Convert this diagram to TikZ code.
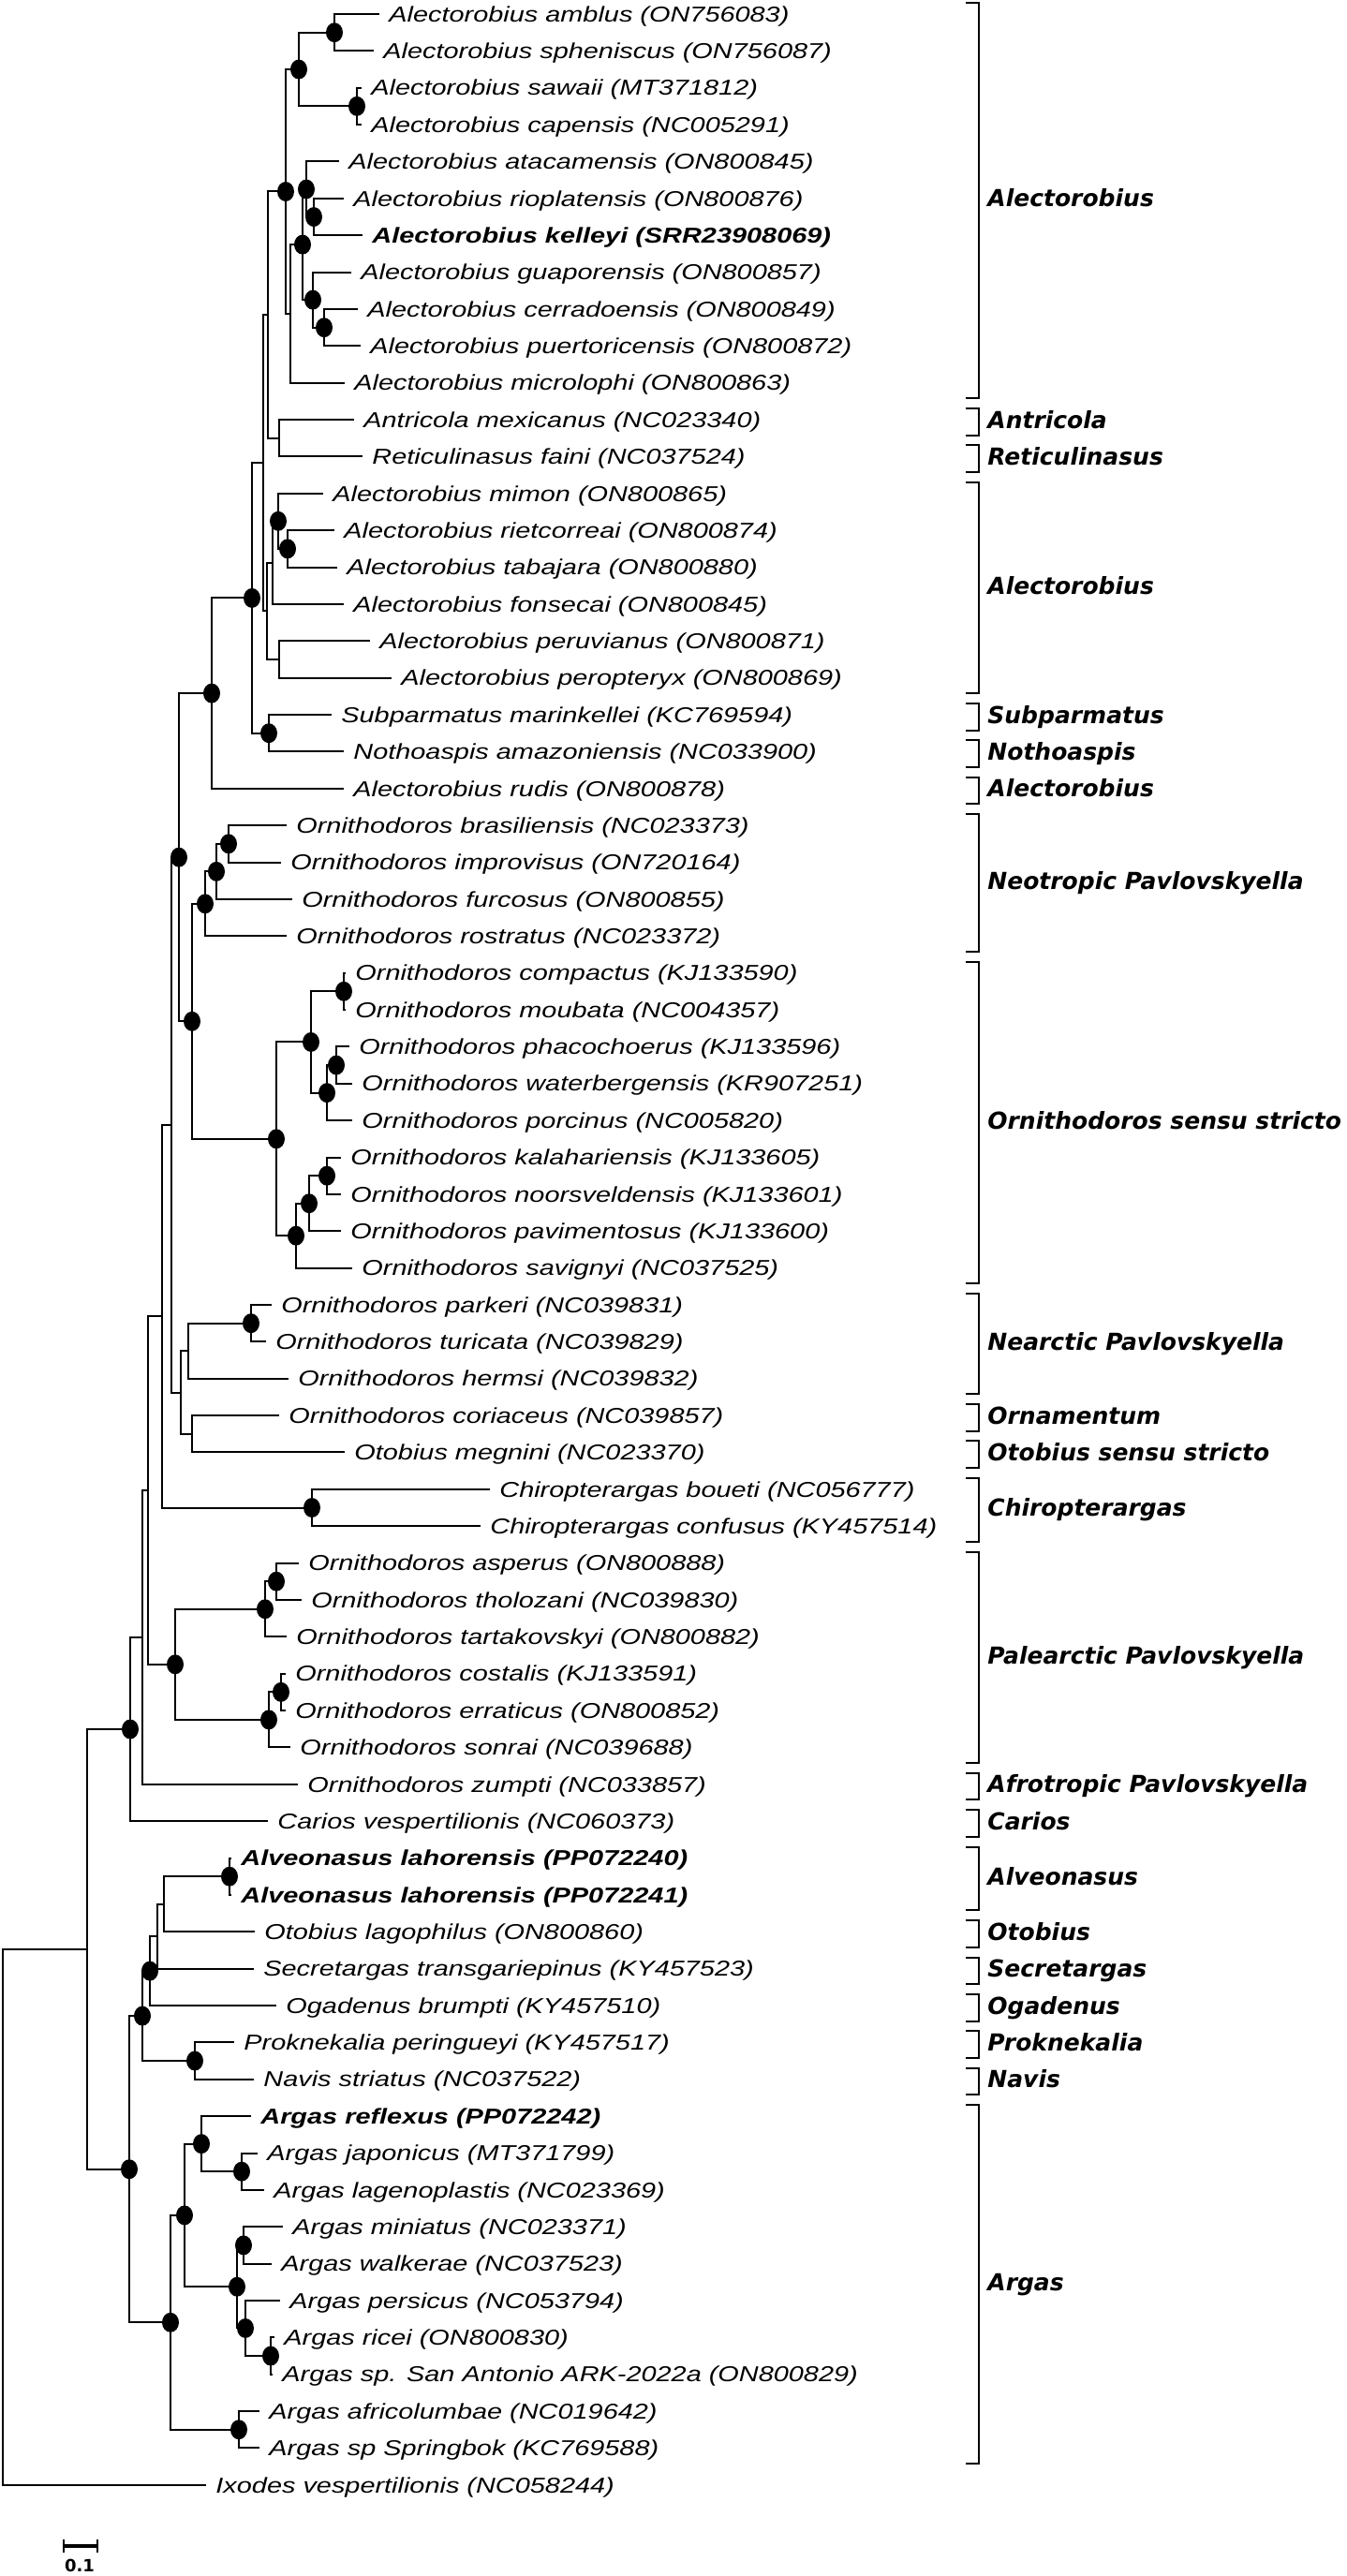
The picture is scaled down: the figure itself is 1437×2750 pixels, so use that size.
\documentclass[tikz,border=0pt]{standalone}
\usepackage{fontspec}
\setmainfont{Liberation Sans}
\newfontfamily\leaffont{Liberation Sans}[FakeStretch=1.256]
\newfontfamily\cladefont{DejaVu Sans}
\usetikzlibrary{shapes.geometric}
\newcommand\leafat[5]{%
  \coordinate (#1) at (#2,#3);
  \node[#4] (#1t) at ({#2+10},{#3+8.2}) {#5};}
\newcommand\inode[3]{\coordinate (#1) at (#2,#3);}
\newcommand\tbranch[3]{\draw[edge] (#2) -| (#1) |- (#3);}
\newcommand\cladebr[4]{%
  \coordinate (#1a) at (1031,{#2-12});
  \coordinate (#1b) at (1031,{#3+16.5});
  \draw[bracket] (#1a) -- ++(14,0) |- (#1b);
  \node[cladelab] (#1t) at (1054,{(#2+#3)/2+9.1}) {#4};}
\begin{document}
\begin{tikzpicture}[x=0.5pt,y=-0.5pt,
  edge/.style={draw=black,line width=1pt},
  bracket/.style={draw=black,line width=1pt},
  supp/.style={ellipse,fill=black,inner sep=0pt,minimum width=9pt,minimum height=10.5pt},
  leaflab/.style={anchor=base west,inner sep=0pt,font=\leaffont\itshape\fontsize{11.5}{13}\selectfont},
  boldlab/.style={anchor=base west,inner sep=0pt,font=\leaffont\bfseries\itshape\fontsize{11.5}{13}\selectfont},
  cladelab/.style={anchor=base west,inner sep=0pt,font=\cladefont\bfseries\itshape\fontsize{12.5}{14}\selectfont},
  scalelab/.style={anchor=base,inner sep=0pt,font=\cladefont\bfseries\fontsize{9}{10}\selectfont}]
\path[fill=white] (0,0) rectangle (1437,2750);
\useasboundingbox (0,0) rectangle (1437,2750);
% leaves
\leafat{l1}{405}{15.0}{leaflab}{Alectorobius amblus (ON756083)}
\leafat{l2}{399}{54.4}{leaflab}{Alectorobius spheniscus (ON756087)}
\leafat{l3}{386}{93.7}{leaflab}{Alectorobius sawaii (MT371812)}
\leafat{l4}{386}{133.1}{leaflab}{Alectorobius capensis (NC005291)}
\leafat{l5}{362}{172.5}{leaflab}{Alectorobius atacamensis (ON800845)}
\leafat{l6}{367}{211.9}{leaflab}{Alectorobius rioplatensis (ON800876)}
\leafat{l7}{387}{251.2}{boldlab}{Alectorobius kelleyi (SRR23908069)}
\leafat{l8}{375}{290.6}{leaflab}{Alectorobius guaporensis (ON800857)}
\leafat{l9}{382}{330.0}{leaflab}{Alectorobius cerradoensis (ON800849)}
\leafat{l10}{385}{369.3}{leaflab}{Alectorobius puertoricensis (ON800872)}
\leafat{l11}{368}{408.7}{leaflab}{Alectorobius microlophi (ON800863)}
\leafat{l12}{378}{448.1}{leaflab}{Antricola mexicanus (NC023340)}
\leafat{l13}{387}{487.4}{leaflab}{Reticulinasus faini (NC037524)}
\leafat{l14}{345}{526.8}{leaflab}{Alectorobius mimon (ON800865)}
\leafat{l15}{357}{566.2}{leaflab}{Alectorobius rietcorreai (ON800874)}
\leafat{l16}{360}{605.5}{leaflab}{Alectorobius tabajara (ON800880)}
\leafat{l17}{367}{644.9}{leaflab}{Alectorobius fonsecai (ON800845)}
\leafat{l18}{395}{684.3}{leaflab}{Alectorobius peruvianus (ON800871)}
\leafat{l19}{418}{723.7}{leaflab}{Alectorobius peropteryx (ON800869)}
\leafat{l20}{354}{763.0}{leaflab}{Subparmatus marinkellei (KC769594)}
\leafat{l21}{367}{802.4}{leaflab}{Nothoaspis amazoniensis (NC033900)}
\leafat{l22}{367}{841.8}{leaflab}{Alectorobius rudis (ON800878)}
\leafat{l23}{306}{881.1}{leaflab}{Ornithodoros brasiliensis (NC023373)}
\leafat{l24}{300}{920.5}{leaflab}{Ornithodoros improvisus (ON720164)}
\leafat{l25}{312}{959.9}{leaflab}{Ornithodoros furcosus (ON800855)}
\leafat{l26}{306}{999.2}{leaflab}{Ornithodoros rostratus (NC023372)}
\leafat{l27}{369}{1038.6}{leaflab}{Ornithodoros compactus (KJ133590)}
\leafat{l28}{369}{1078.0}{leaflab}{Ornithodoros moubata (NC004357)}
\leafat{l29}{373}{1117.4}{leaflab}{Ornithodoros phacochoerus (KJ133596)}
\leafat{l30}{376}{1156.7}{leaflab}{Ornithodoros waterbergensis (KR907251)}
\leafat{l31}{376}{1196.1}{leaflab}{Ornithodoros porcinus (NC005820)}
\leafat{l32}{364}{1235.5}{leaflab}{Ornithodoros kalahariensis (KJ133605)}
\leafat{l33}{364}{1274.8}{leaflab}{Ornithodoros noorsveldensis (KJ133601)}
\leafat{l34}{364}{1314.2}{leaflab}{Ornithodoros pavimentosus (KJ133600)}
\leafat{l35}{376}{1353.6}{leaflab}{Ornithodoros savignyi (NC037525)}
\leafat{l36}{290}{1393.0}{leaflab}{Ornithodoros parkeri (NC039831)}
\leafat{l37}{284}{1432.3}{leaflab}{Ornithodoros turicata (NC039829)}
\leafat{l38}{308}{1471.7}{leaflab}{Ornithodoros hermsi (NC039832)}
\leafat{l39}{298}{1511.1}{leaflab}{Ornithodoros coriaceus (NC039857)}
\leafat{l40}{368}{1550.4}{leaflab}{Otobius megnini (NC023370)}
\leafat{l41}{523}{1589.8}{leaflab}{Chiropterargas boueti (NC056777)}
\leafat{l42}{513}{1629.2}{leaflab}{Chiropterargas confusus (KY457514)}
\leafat{l43}{319}{1668.5}{leaflab}{Ornithodoros asperus (ON800888)}
\leafat{l44}{322}{1707.9}{leaflab}{Ornithodoros tholozani (NC039830)}
\leafat{l45}{306}{1747.3}{leaflab}{Ornithodoros tartakovskyi (ON800882)}
\leafat{l46}{305}{1786.7}{leaflab}{Ornithodoros costalis (KJ133591)}
\leafat{l47}{305}{1826.0}{leaflab}{Ornithodoros erraticus (ON800852)}
\leafat{l48}{310}{1865.4}{leaflab}{Ornithodoros sonrai (NC039688)}
\leafat{l49}{318}{1904.8}{leaflab}{Ornithodoros zumpti (NC033857)}
\leafat{l50}{286}{1944.1}{leaflab}{Carios vespertilionis (NC060373)}
\leafat{l51}{247}{1983.5}{boldlab}{Alveonasus lahorensis (PP072240)}
\leafat{l52}{247}{2022.9}{boldlab}{Alveonasus lahorensis (PP072241)}
\leafat{l53}{272}{2062.2}{leaflab}{Otobius lagophilus (ON800860)}
\leafat{l54}{271}{2101.6}{leaflab}{Secretargas transgariepinus (KY457523)}
\leafat{l55}{295}{2141.0}{leaflab}{Ogadenus brumpti (KY457510)}
\leafat{l56}{250}{2180.3}{leaflab}{Proknekalia peringueyi (KY457517)}
\leafat{l57}{271}{2219.7}{leaflab}{Navis striatus (NC037522)}
\leafat{l58}{268}{2259.1}{boldlab}{Argas reflexus (PP072242)}
\leafat{l59}{275}{2298.5}{leaflab}{Argas japonicus (MT371799)}
\leafat{l60}{282}{2337.8}{leaflab}{Argas lagenoplastis (NC023369)}
\leafat{l61}{302}{2377.2}{leaflab}{Argas miniatus (NC023371)}
\leafat{l62}{290}{2416.6}{leaflab}{Argas walkerae (NC037523)}
\leafat{l63}{299}{2455.9}{leaflab}{Argas persicus (NC053794)}
\leafat{l64}{293}{2495.3}{leaflab}{Argas ricei (ON800830)}
\leafat{l65}{291}{2534.7}{leaflab}{Argas sp. San Antonio ARK-2022a (ON800829)}
\leafat{l66}{277}{2574.0}{leaflab}{Argas africolumbae (NC019642)}
\leafat{l67}{277}{2613.4}{leaflab}{Argas sp Springbok (KC769588)}
\leafat{l68}{220}{2652.8}{leaflab}{Ixodes vespertilionis (NC058244)}
% internal nodes
\inode{n12}{357}{34.7}
\inode{n34}{381}{113.4}
\inode{nA}{319}{74.05}
\inode{n67}{335}{231.55}
\inode{n567}{327}{202.0}
\inode{n910}{346}{349.65}
\inode{n8910}{334}{320.1}
\inode{nD}{323}{261.1}
\inode{nF}{310}{334.9}
\inode{nB}{305}{204.5}
\inode{nG}{298}{467.75}
\inode{nH}{286}{336.1}
\inode{n1516}{307}{585.85}
\inode{n1416}{297}{556.3}
\inode{nL}{291}{600.6}
\inode{nM}{298}{704.0}
\inode{nK}{285}{652.3}
\inode{nJ}{281}{494.2}
\inode{nSN}{287}{782.7}
\inode{nI}{269}{638.45}
\inode{nN}{226}{740.1}
\inode{n2324}{244}{900.8}
\inode{n2325}{231}{930.35}
\inode{nQ}{219}{964.8}
\inode{n2728}{367}{1058.3}
\inode{n2930}{359}{1137.05}
\inode{n2931}{349}{1166.6}
\inode{nS}{332}{1112.45}
\inode{n3233}{349}{1255.15}
\inode{n3234}{330}{1284.7}
\inode{nT}{316}{1319.15}
\inode{nR}{295}{1215.8}
\inode{nP}{205}{1090.3}
\inode{nO}{191}{915.2}
\inode{n3637}{268}{1412.65}
\inode{nU}{201}{1442.2}
\inode{nV}{205}{1530.75}
\inode{nW}{193}{1486.5}
\inode{nX}{183}{1200.85}
\inode{nZ}{333}{1609.5}
\inode{nY}{173}{1405.2}
\inode{n4344}{295}{1688.2}
\inode{n4345}{283}{1717.75}
\inode{n4647}{300}{1806.35}
\inode{n4648}{287}{1835.9}
\inode{nAB}{187}{1776.8}
\inode{nAA}{158}{1591.0}
\inode{nAC}{151.5}{1747.9}
\inode{nAD}{139}{1846.0}
\inode{n5152}{245}{2003.2}
\inode{n5153}{175}{2032.7}
\inode{nAJ}{168}{2067.15}
\inode{nAK}{160}{2104.1}
\inode{n5657}{208}{2200.0}
\inode{nAG}{152}{2152.05}
\inode{n5960}{258}{2318.15}
\inode{n5860}{215}{2288.6}
\inode{n6162}{260}{2396.9}
\inode{n6465}{289}{2515.0}
\inode{n6365}{262}{2485.45}
\inode{n6165}{253}{2441.2}
\inode{nAM}{197}{2364.9}
\inode{n6667}{255}{2593.7}
\inode{nAH}{182}{2479.3}
\inode{nAF}{138}{2315.7}
\inode{nAE}{93}{2080.85}
\inode{nRoot}{3}{2366.8}
% branches
\tbranch{n12}{l1}{l2}
\tbranch{n34}{l3}{l4}
\tbranch{nA}{n12}{n34}
\tbranch{n67}{l6}{l7}
\tbranch{n567}{l5}{n67}
\tbranch{n910}{l9}{l10}
\tbranch{n8910}{l8}{n910}
\tbranch{nD}{n567}{n8910}
\tbranch{nF}{nD}{l11}
\tbranch{nB}{nA}{nF}
\tbranch{nG}{l12}{l13}
\tbranch{nH}{nB}{nG}
\tbranch{n1516}{l15}{l16}
\tbranch{n1416}{l14}{n1516}
\tbranch{nL}{n1416}{l17}
\tbranch{nM}{l18}{l19}
\tbranch{nK}{nL}{nM}
\tbranch{nJ}{nH}{nK}
\tbranch{nSN}{l20}{l21}
\tbranch{nI}{nJ}{nSN}
\tbranch{nN}{nI}{l22}
\tbranch{n2324}{l23}{l24}
\tbranch{n2325}{n2324}{l25}
\tbranch{nQ}{n2325}{l26}
\tbranch{n2728}{l27}{l28}
\tbranch{n2930}{l29}{l30}
\tbranch{n2931}{n2930}{l31}
\tbranch{nS}{n2728}{n2931}
\tbranch{n3233}{l32}{l33}
\tbranch{n3234}{n3233}{l34}
\tbranch{nT}{n3234}{l35}
\tbranch{nR}{nS}{nT}
\tbranch{nP}{nQ}{nR}
\tbranch{nO}{nN}{nP}
\tbranch{n3637}{l36}{l37}
\tbranch{nU}{n3637}{l38}
\tbranch{nV}{l39}{l40}
\tbranch{nW}{nU}{nV}
\tbranch{nX}{nO}{nW}
\tbranch{nZ}{l41}{l42}
\tbranch{nY}{nX}{nZ}
\tbranch{n4344}{l43}{l44}
\tbranch{n4345}{n4344}{l45}
\tbranch{n4647}{l46}{l47}
\tbranch{n4648}{n4647}{l48}
\tbranch{nAB}{n4345}{n4648}
\tbranch{nAA}{nY}{nAB}
\tbranch{nAC}{nAA}{l49}
\tbranch{nAD}{nAC}{l50}
\tbranch{n5152}{l51}{l52}
\tbranch{n5153}{n5152}{l53}
\tbranch{nAJ}{n5153}{l54}
\tbranch{nAK}{nAJ}{l55}
\tbranch{n5657}{l56}{l57}
\tbranch{nAG}{nAK}{n5657}
\tbranch{n5960}{l59}{l60}
\tbranch{n5860}{l58}{n5960}
\tbranch{n6162}{l61}{l62}
\tbranch{n6465}{l64}{l65}
\tbranch{n6365}{l63}{n6465}
\tbranch{n6165}{n6162}{n6365}
\tbranch{nAM}{n5860}{n6165}
\tbranch{n6667}{l66}{l67}
\tbranch{nAH}{nAM}{n6667}
\tbranch{nAF}{nAG}{nAH}
\tbranch{nAE}{nAD}{nAF}
\tbranch{nRoot}{nAE}{l68}
% support markers
\foreach \s in {n12,n34,nA,n67,n567,n910,n8910,nD,nB,n1516,n1416,nSN,nI,nN,
  n2324,n2325,nQ,n2728,n2930,n2931,nS,n3233,n3234,nT,nR,nP,nO,n3637,nZ,
  n4344,n4345,n4647,n4648,nAB,nAD,n5152,nAK,n5657,nAG,n5960,n5860,n6162,
  n6465,n6365,n6165,nAM,n6667,nAH,nAF}
  {\node[supp] (c\s) at (\s) {};}
% clade brackets
\cladebr{kA}{15.0}{408.7}{Alectorobius}
\cladebr{kB}{448.1}{448.1}{Antricola}
\cladebr{kC}{487.4}{487.4}{Reticulinasus}
\cladebr{kD}{526.8}{723.7}{Alectorobius}
\cladebr{kE}{763.0}{763.0}{Subparmatus}
\cladebr{kF}{802.4}{802.4}{Nothoaspis}
\cladebr{kG}{841.8}{841.8}{Alectorobius}
\cladebr{kH}{881.1}{999.2}{Neotropic Pavlovskyella}
\cladebr{kI}{1038.6}{1353.6}{Ornithodoros sensu stricto}
\cladebr{kJ}{1393.0}{1471.7}{Nearctic Pavlovskyella}
\cladebr{kK}{1511.1}{1511.1}{Ornamentum}
\cladebr{kL}{1550.4}{1550.4}{Otobius sensu stricto}
\cladebr{kM}{1589.8}{1629.2}{Chiropterargas}
\cladebr{kN}{1668.5}{1865.4}{Palearctic Pavlovskyella}
\cladebr{kO}{1904.8}{1904.8}{Afrotropic Pavlovskyella}
\cladebr{kP}{1944.1}{1944.1}{Carios}
\cladebr{kQ}{1983.5}{2022.9}{Alveonasus}
\cladebr{kR}{2062.2}{2062.2}{Otobius}
\cladebr{kS}{2101.6}{2101.6}{Secretargas}
\cladebr{kT}{2141.0}{2141.0}{Ogadenus}
\cladebr{kU}{2180.3}{2180.3}{Proknekalia}
\cladebr{kV}{2219.7}{2219.7}{Navis}
\cladebr{kW}{2259.1}{2613.4}{Argas}
% scale bar
\coordinate (sbL) at (68,2718);
\coordinate (sbR) at (104,2718);
\draw[line width=1.6pt] (sbL) -- (sbR);
\draw[line width=1.4pt] (sbL) ++(0,-7) -- ++(0,14);
\draw[line width=1.4pt] (sbR) ++(0,-7) -- ++(0,14);
\node[scalelab] (sbT) at (85,2745) {0.1};
\end{tikzpicture}
\end{document}
